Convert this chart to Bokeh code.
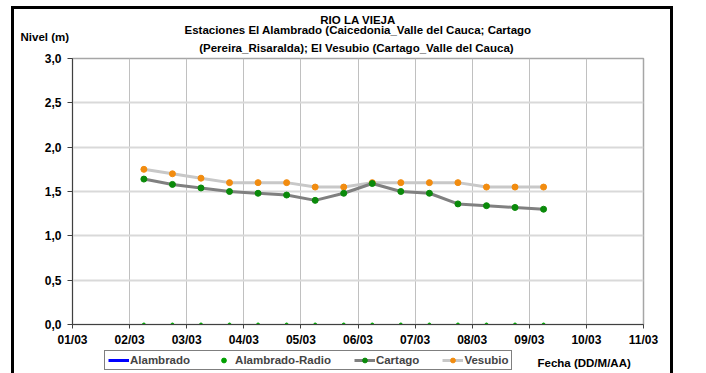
import math
from bokeh.plotting import figure
from bokeh.models import (Range1d, FixedTicker, CustomJSTickFormatter,
                          Legend, LegendItem, ColumnDataSource, Title, Label)
from bokeh.layouts import column
from bokeh.embed import file_html
from bokeh.resources import INLINE

# ---------------- data ----------------
fechas = ["02/03 06:00", "02/03 18:00", "03/03 06:00", "03/03 18:00",
          "04/03 06:00", "04/03 18:00", "05/03 06:00", "05/03 18:00",
          "06/03 06:00", "06/03 18:00", "07/03 06:00", "07/03 18:00",
          "08/03 06:00", "08/03 18:00", "09/03 06:00"]
alambrado = []
alambrado_radio = [0.0, 0.0, 0.0, 0.0, 0.0, 0.0, 0.0, 0.0,
                   0.0, 0.0, 0.0, 0.0, 0.0, 0.0, 0.0]
cartago = [1.64, 1.58, 1.54, 1.50, 1.48, 1.46, 1.40, 1.48,
           1.59, 1.50, 1.48, 1.36, 1.34, 1.32, 1.30]
vesubio = [1.75, 1.70, 1.65, 1.60, 1.60, 1.60, 1.55, 1.55,
           1.60, 1.60, 1.60, 1.60, 1.55, 1.55, 1.55]
tick_labels = ["01/03", "02/03", "03/03", "04/03", "05/03", "06/03",
               "07/03", "08/03", "09/03", "10/03", "11/03"]
y_ticks = [0.0, 0.5, 1.0, 1.5, 2.0, 2.5, 3.0]
series_names = ["Alambrado", "Alambrado-Radio", "Cartago", "Vesubio"]

titulo = ["RIO LA VIEJA",
          "Estaciones El Alambrado (Caicedonia_Valle del Cauca; Cartago",
          "(Pereira_Risaralda);  El Vesubio (Cartago_Valle del Cauca)"]
eje_y = "Nivel (m)"
eje_x = "Fecha (DD/M/AA)"

# ---------------- styles ----------------
FONT = "Liberation Sans"
C_ALAM = "#0000ff"
C_RADIO = "#00a000"
C_CART_L, C_CART_M = "#808080", "#0a8a0a"
C_VES_L, C_VES_M = "#c8c8c8", "#f28c0f"


def to_day(s):
    d, t = s.split(" ")
    dd = int(d.split("/")[0])
    hh, mm = t.split(":")
    return dd + (int(hh) + int(mm) / 60) / 24


x = [to_day(f) for f in fechas]
src = ColumnDataSource(dict(x=x, radio=alambrado_radio, cartago=cartago, vesubio=vesubio))
src_alam = ColumnDataSource(dict(x=[], y=alambrado))

# ---------------- main plot ----------------
p = figure(width=706, height=349, output_backend="svg", toolbar_location=None,
           x_range=Range1d(1, 11), y_range=Range1d(0, 3),
           min_border_left=72, min_border_right=63, min_border_top=58,
           min_border_bottom=23)
p.background_fill_color = "white"
p.border_fill_alpha = 0
p.outline_line_color = "#a6a6a6"
p.outline_line_width = 1.5

p.xaxis.ticker = FixedTicker(ticks=list(range(1, 12)))
p.xaxis.major_label_overrides = {i + 1: lab for i, lab in enumerate(tick_labels)}
p.yaxis.ticker = FixedTicker(ticks=y_ticks)
p.yaxis.formatter = CustomJSTickFormatter(code="return tick.toFixed(1).replace('.', ',');")
for ax in (p.xaxis, p.yaxis):
    ax.axis_line_color = "#404040"
    ax.axis_line_width = 1
    ax.major_tick_line_color = "#404040"
    ax.major_tick_in = 0
    ax.minor_tick_line_color = None
    ax.major_label_text_font = FONT
    ax.major_label_text_font_style = "bold"
    ax.major_label_text_font_size = "12px"
    ax.major_label_text_color = "black"
p.xaxis.major_tick_out = 4
p.xaxis.major_label_standoff = 4
p.yaxis.major_tick_out = 5
p.yaxis.major_label_standoff = 6

p.xgrid.ticker = FixedTicker(ticks=list(range(1, 12)))
p.xgrid.grid_line_color = "#c0c0c0"
p.xgrid.grid_line_width = 1
p.ygrid.grid_line_color = "#d9d9d9"
p.ygrid.grid_line_width = 2


# title lines and y caption (first added sits closest to the plot)
def add_title(text, standoff, align="center", offset=0):
    t = Title(text=text, align=align, offset=offset, text_font=FONT, text_font_style="bold",
              text_font_size="11.5px", text_color="black", standoff=0)
    try:
        t.standoff = standoff
    except Exception:
        t.standoff = max(standoff, 0)
    p.add_layout(t, "above")


add_title(titulo[2], 9)
add_title(eje_y, -14, align="left", offset=-52)
add_title(titulo[1], -1)
add_title(titulo[0], -6)

# series
p.line("x", "y", source=src_alam, line_color=C_ALAM, line_width=3)
p.line("x", "vesubio", source=src, line_color=C_VES_L, line_width=3)
p.line("x", "cartago", source=src, line_color=C_CART_L, line_width=3)
p.scatter("x", "radio", source=src, size=3, color=C_RADIO)
p.scatter("x", "vesubio", source=src, size=6, color=C_VES_M)
p.scatter("x", "cartago", source=src, size=6, color=C_CART_M)

# ---------------- legend strip (below the plot) ----------------
# its frame is aligned with the main plot's frame (x 72..643 px)
q = figure(width=706, height=24, output_backend="svg", toolbar_location=None,
           x_range=Range1d(72, 643), y_range=Range1d(0, 24),
           x_axis_location=None, y_axis_location=None,
           min_border_left=0, min_border_right=0, min_border_top=0, min_border_bottom=0)
q.grid.visible = False
q.outline_line_color = None
q.background_fill_alpha = 0
q.border_fill_alpha = 0
nan = [math.nan]
g_alam = q.line(nan, nan, line_color=C_ALAM, line_width=3)
g_radio = q.scatter(nan, nan, size=3, color=C_RADIO)
g_cl = q.line(nan, nan, line_color=C_CART_L, line_width=3)
g_cm = q.scatter(nan, nan, size=6, color=C_CART_M)
g_vl = q.line(nan, nan, line_color=C_VES_L, line_width=3)
g_vm = q.scatter(nan, nan, size=6, color=C_VES_M)

legend = Legend(items=[LegendItem(label=series_names[0], renderers=[g_alam]),
                       LegendItem(label=series_names[1], renderers=[g_radio]),
                       LegendItem(label=series_names[2], renderers=[g_cl, g_cm]),
                       LegendItem(label=series_names[3], renderers=[g_vl, g_vm])],
                orientation="horizontal", location=(32, 3),
                glyph_width=21, glyph_height=12, label_standoff=1, spacing=23,
                padding=3, margin=0, border_line_color="black", border_line_width=1,
                background_fill_color="white", background_fill_alpha=1,
                label_text_font=FONT, label_text_font_style="bold",
                label_text_font_size="11.5px", label_height=12)
q.add_layout(legend)
q.add_layout(Label(x=537, y=10.3, text=eje_x, text_align="left", text_baseline="middle",
                   text_font=FONT, text_font_style="bold", text_font_size="11.5px",
                   text_color="black"))

layout = column(p, q, spacing=0, styles={
    "background-color": "white",
    "background-image": "linear-gradient(#000,#000), linear-gradient(#000,#000), linear-gradient(#000,#000)",
    "background-size": "3px 100%, 662px 3px, 3px 100%",
    "background-position": "11px 6px, 11px 6px, 670px 6px",
    "background-repeat": "no-repeat",
})

open("out.html", "w").write(file_html(layout, INLINE))
